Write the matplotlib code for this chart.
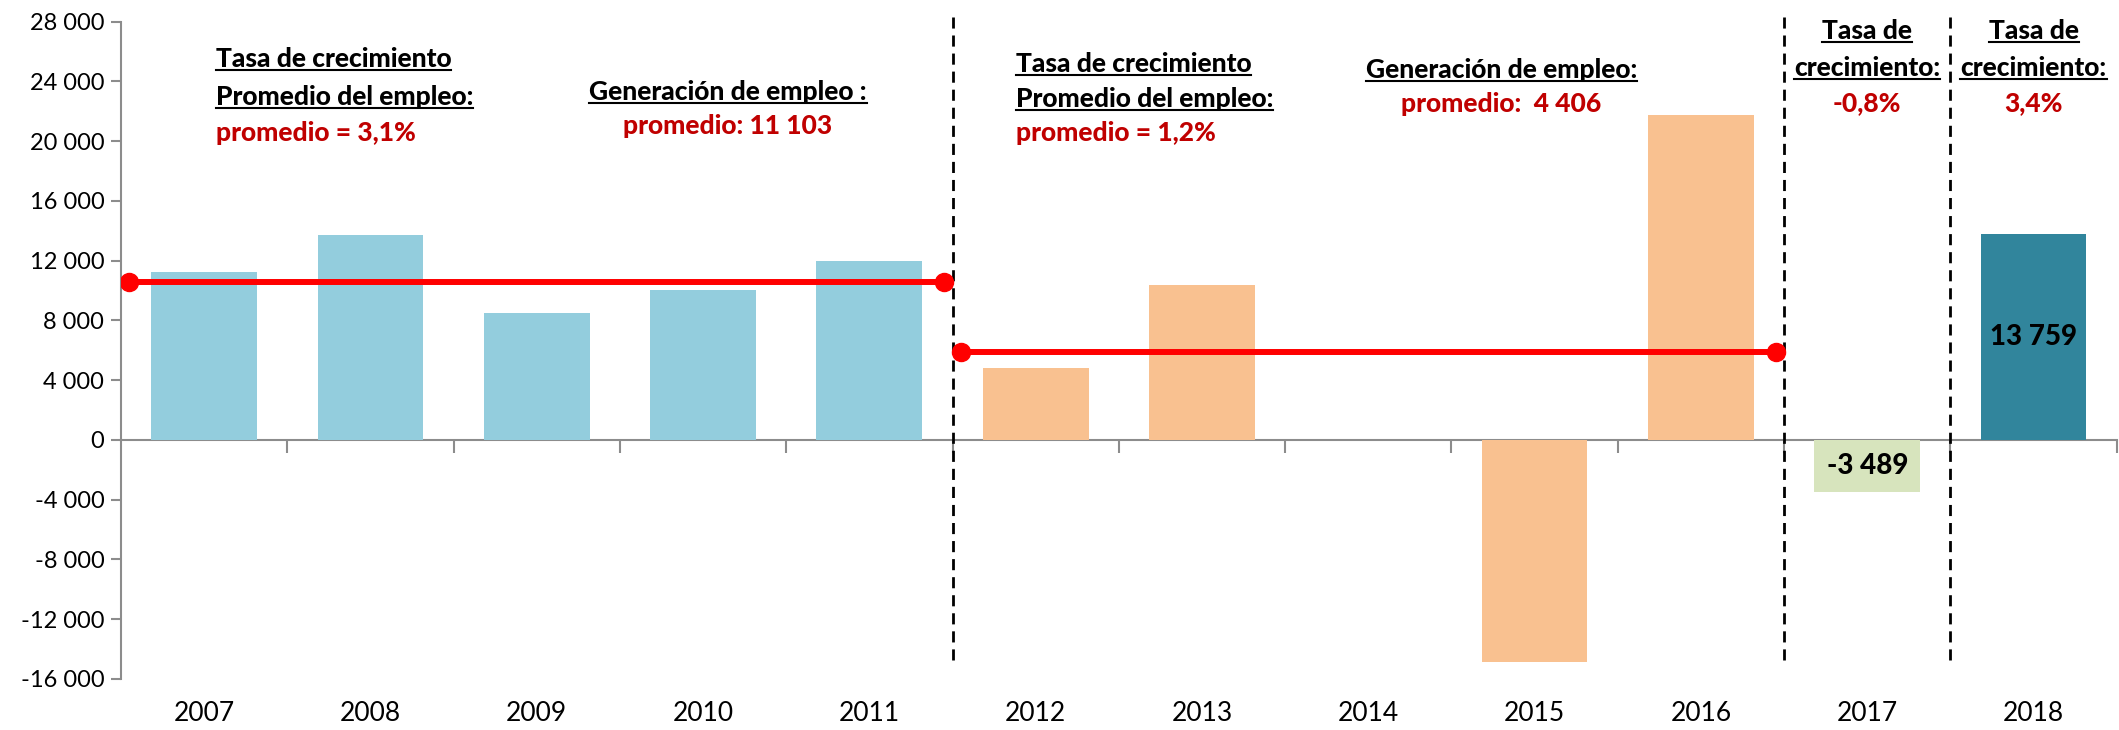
import numpy as np
import matplotlib
matplotlib.use("Agg")
import matplotlib.pyplot as plt
from matplotlib.lines import Line2D

plt.rcParams['font.family'] = ['Lato', 'DejaVu Sans']

# Generación de empleo por año
years = ['2007', '2008', '2009', '2010', '2011', '2012',
         '2013', '2014', '2015', '2016', '2017', '2018']
empleo = [11240, 13700, 8520, 10070, 11985, 4810,
          10340, 0, -14880, 21760, -3489, 13759]
# periodos: número de años en cada tramo
periodos = [5, 5, 1, 1]
colores_periodo = ['#93CDDD', '#F9C190', '#D7E4BD', '#31859C']
# nivel de la línea roja en los dos primeros tramos
nivel_linea = [10560, 5870]
etiquetas_barra = {10: '-3 489', 11: '13 759'}

gris = '#8C8C8C'
rojo = '#C00000'

fig = plt.figure(figsize=(21.19, 7.30), dpi=100)
ax = fig.add_axes([0.0571, 0.0699, 0.9418, 0.9004])

x = np.arange(len(years))
colores = []
for n, c in zip(periodos, colores_periodo):
    colores += [c] * n
ax.bar(x, empleo, width=0.636, color=colores, zorder=2)

for i, txt in etiquetas_barra.items():
    ax.text(x[i], empleo[i] / 2, txt, ha='center', va='center',
            fontsize=20, fontweight='black', color='black', zorder=5)

# límites de cada tramo
ends = np.cumsum(periodos)
starts = ends - np.array(periodos)
for s, e, lvl in zip(starts, ends, nivel_linea):
    ax.plot([s - 0.45, e - 1 + 0.45], [lvl, lvl], color='red', lw=4.3,
            marker='o', ms=13, zorder=4, solid_capstyle='butt')

for b in ends[:-1] - 0.5:
    ax.vlines(b, -14700, 28300, colors='black', lw=2,
              linestyles=(0, (4, 2.5)), clip_on=False, zorder=3)

ax.set_xlim(-0.5, len(years) - 0.5)
ax.set_ylim(-16000, 28000)
yt = np.arange(-16000, 28001, 4000)
ax.set_yticks(yt, [f"{v:,}".replace(",", " ") for v in yt])
ax.set_xticks(x, years)
ax.tick_params(axis='x', length=0, pad=16, labelsize=19)
ax.tick_params(axis='y', length=7, width=1.5, color=gris, pad=5, labelsize=17)
for s in ['top', 'right', 'bottom']:
    ax.spines[s].set_visible(False)
ax.spines['left'].set_color(gris)
ax.spines['left'].set_linewidth(1.5)

# eje horizontal en cero con marcas entre categorías
sec = ax.secondary_xaxis(0, transform=ax.transData)
sec.set_xticks(np.arange(0.5, len(years), 1))
sec.tick_params(length=9, width=1.5, color=gris, labelbottom=False)
sec.spines['bottom'].set_color(gris)
sec.spines['bottom'].set_linewidth(1.5)

# textos: (x, y, texto, color, alineación, subrayado)
textos = [
    (0.07, 25530, 'Tasa de crecimiento', 'black', 'left', True),
    (0.07, 22980, 'Promedio del empleo:', 'black', 'left', True),
    (0.07, 20570, 'promedio = 3,1%', rojo, 'left', False),
    (3.15, 23280, 'Generación de empleo :', 'black', 'center', True),
    (3.15, 21000, 'promedio: 11 103', rojo, 'center', False),
    (4.88, 25180, 'Tasa de crecimiento', 'black', 'left', True),
    (4.88, 22830, 'Promedio del empleo:', 'black', 'left', True),
    (4.88, 20560, 'promedio = 1,2%', rojo, 'left', False),
    (7.80, 24740, 'Generación de empleo:', 'black', 'center', True),
    (7.80, 22460, 'promedio:  4 406', rojo, 'center', False),
    (10, 27360, 'Tasa de', 'black', 'center', True),
    (10, 24900, 'crecimiento:', 'black', 'center', True),
    (10, 22560, '-0,8%', rojo, 'center', False),
    (11, 27360, 'Tasa de', 'black', 'center', True),
    (11, 24900, 'crecimiento:', 'black', 'center', True),
    (11, 22560, '3,4%', rojo, 'center', False),
]
subrayar = []
for tx, ty, s, c, ha, und in textos:
    t = ax.text(tx, ty, s, color=c, ha=ha, va='center', fontsize=19,
                fontweight='black', zorder=5)
    if und:
        subrayar.append(t)

fig.canvas.draw()
r = fig.canvas.get_renderer()
inv = fig.transFigure.inverted()
for t in subrayar:
    bb = t.get_window_extent(r)
    (x0, y0), (x1, _) = inv.transform([(bb.x0, bb.y0 + 1), (bb.x1, bb.y0 + 1)])
    fig.add_artist(Line2D([x0, x1], [y0, y0], color='black', lw=1.5))

fig.savefig('out.png', dpi=100)
